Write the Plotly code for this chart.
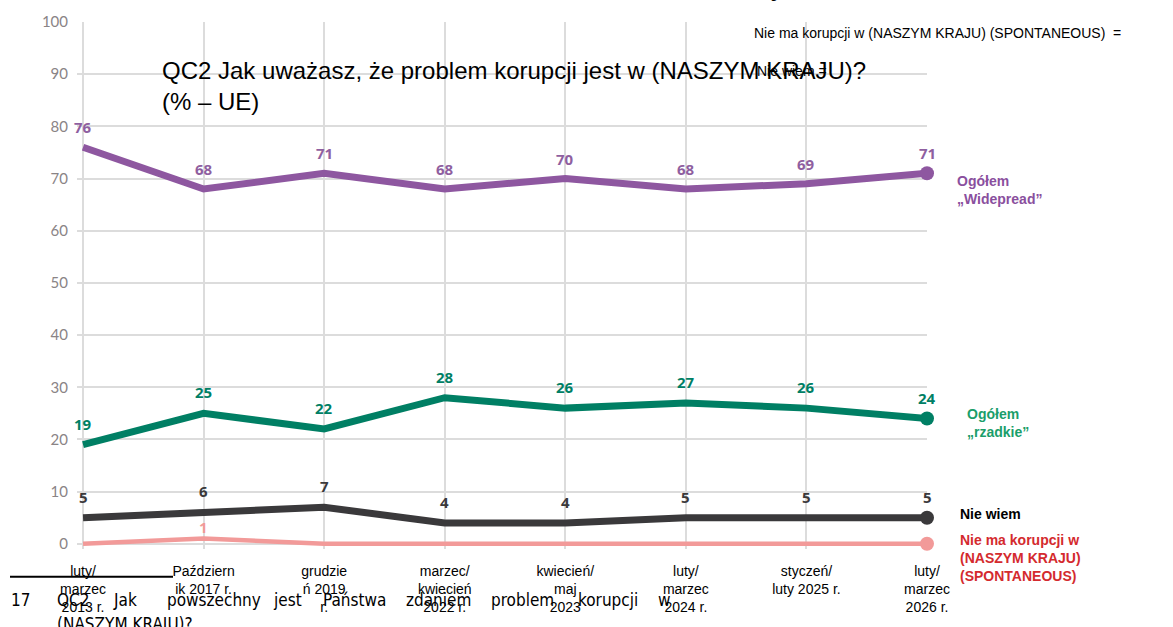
import plotly.graph_objects as go

# ---------------- data ----------------
categories = ["luty/<br>marzec<br>2013 r.", "Październ<br>ik 2017 r.", "grudzie<br>ń 2019<br>r.",
              "marzec/<br>kwiecień<br>2022 r.", "kwiecień/<br>maj<br>2023", "luty/<br>marzec<br>2024 r.",
              "styczeń/<br>luty 2025 r.", "luty/<br>marzec<br>2026 r."]
widespread = [76, 68, 71, 68, 70, 68, 69, 71]
rare = [19, 25, 22, 28, 26, 27, 26, 24]
dont_know = [5, 6, 7, 4, 4, 5, 5, 5]
no_corruption = [0, 1, 0, 0, 0, 0, 0, 0]
y_ticks = [0, 10, 20, 30, 40, 50, 60, 70, 80, 90, 100]

W, H = 1173, 627
L, R, T, B = 77, 246, 19, 78

def px(x):
    return (x - L) / (W - L - R)

def py(y):
    return 1 - (y - T) / (H - T - B)

series = [
    (no_corruption, "#F29A99", 4.5, "#F29A99", 12),
    (dont_know, "#3A393B", 7, "#3A393B", 21),
    (rare, "#007F64", 7, "#007F64", 21),
    (widespread, "#8E57A0", 7, "#8F5FA0", 20),
]

fig = go.Figure()
xs = list(range(len(categories)))
annotations = []
for vals, col, lw, lblcol, ysh in series:
    fig.add_trace(go.Scatter(x=xs, y=vals, mode="lines", line=dict(color=col, width=lw),
                             cliponaxis=False, hoverinfo="skip", showlegend=False))
    fig.add_trace(go.Scatter(x=[xs[-1]], y=[vals[-1]], mode="markers",
                             marker=dict(color=col, size=14), cliponaxis=False,
                             hoverinfo="skip", showlegend=False))
    for i, v in zip(xs, vals):
        if vals is no_corruption and v == 0:
            continue
        annotations.append(dict(x=i, y=v, xref="x", yref="y", text=f"<b>{v}</b>", showarrow=False,
                                yshift=ysh, font=dict(family="Open Sans", size=15, color=lblcol)))

# Title
annotations.append(dict(x=px(160), y=py(52), xref="paper", yref="paper", xanchor="left", yanchor="top",
                        align="left", showarrow=False,
                        text="QC2 Jak uważasz, że problem korupcji jest w (NASZYM KRAJU)?<br>(% – UE)",
                        font=dict(family="Liberation Sans", size=24, color="#000000")))
# top right overlapping text
annotations.append(dict(x=px(752), y=py(30), xref="paper", yref="paper", xanchor="left", yanchor="middle",
                        showarrow=False, text="Nie ma korupcji w (NASZYM KRAJU) (SPONTANEOUS)  =",
                        font=dict(family="Liberation Sans", size=14, color="#000000")))
annotations.append(dict(x=px(755), y=py(68), xref="paper", yref="paper", xanchor="left", yanchor="middle",
                        showarrow=False, text="Nie wiem =",
                        font=dict(family="Liberation Sans", size=14, color="#000000")))
annotations.append(dict(x=px(757), y=py(-10), xref="paper", yref="paper", xanchor="left", yanchor="middle",
                        showarrow=False, text="Ogółem „rzadkie” =",
                        font=dict(family="Liberation Sans", size=14, color="#000000")))

# series labels
side = [
    ("Ogółem<br>„Widepread”", 955, 188, "#8A4F9E"),
    ("Ogółem<br>„rzadkie”", 965, 422, "#1A9E6A"),
    ("Nie wiem", 958, 514, "#000000"),
    ("Nie ma korupcji w<br>(NASZYM KRAJU)<br>(SPONTANEOUS)", 958, 558, "#D42A2E"),
]
for txt, x0, y0, c in side:
    annotations.append(dict(x=px(x0), y=py(y0), xref="paper", yref="paper", xanchor="left", yanchor="middle",
                            align="left", showarrow=False, text=f"<b>{txt}</b>",
                            font=dict(family="Liberation Sans", size=14, color=c)))

# footnote
foot_words = ["17", "QC2", "Jak", "powszechny", "jest", "Państwa", "zdaniem", "problem", "korupcji", "w"]
foot_x = [9, 55, 111, 165, 271, 321, 404, 489, 576, 656]
for w_, x0 in zip(foot_words, foot_x):
    annotations.append(dict(x=px(x0), y=py(600), xref="paper", yref="paper", xanchor="left", yanchor="middle",
                            showarrow=False, text=w_,
                            font=dict(family="DejaVu Sans Condensed", size=17, color="#000000")))
annotations.append(dict(x=px(55), y=py(624), xref="paper", yref="paper", xanchor="left", yanchor="middle",
                        showarrow=False, text="(NASZYM KRAJU)?",
                        font=dict(family="DejaVu Sans Condensed", size=17, color="#000000")))

shapes = [dict(type="line", xref="paper", yref="paper", x0=px(10), x1=px(173), y0=py(577), y1=py(577),
               line=dict(color="#000000", width=2))]

fig.update_layout(
    width=W, height=H, margin=dict(l=L, r=R, t=T, b=B),
    plot_bgcolor="#ffffff", paper_bgcolor="#ffffff",
    annotations=annotations, shapes=shapes, showlegend=False,
    xaxis=dict(range=[-0.05, 7], tickvals=xs, ticktext=categories, showgrid=True,
               gridcolor="#DCDCDC", gridwidth=1.5, zeroline=False, ticks="", ticklabelstandoff=12,
               tickfont=dict(family="Liberation Sans", size=14, color="#000000")),
    yaxis=dict(range=[-1, 100], tickvals=y_ticks, showgrid=True, gridcolor="#DCDCDC", gridwidth=1.5,
               zeroline=False, ticks="", ticklabelstandoff=8,
               tickfont=dict(family="Lato", size=15, color="#8A8486")),
)

fig.write_html("out.html", config={"displayModeBar": False},
               post_script="document.body.style.margin='0';")
